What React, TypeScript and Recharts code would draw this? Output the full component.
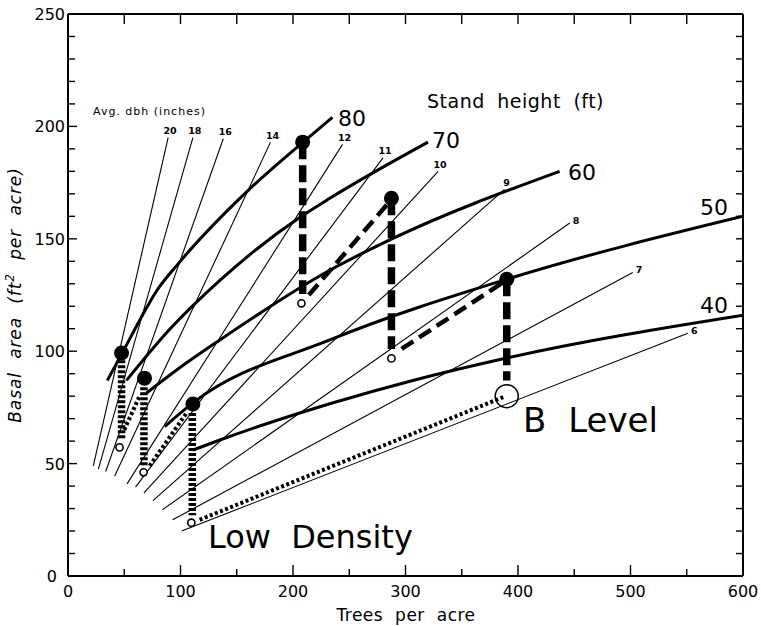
import React from "react";
import { ComposedChart, Line, Scatter, XAxis, YAxis, ReferenceLine } from "recharts";

// axis ticks
const xTicks = [0, 50, 100, 150, 200, 250, 300, 350, 400, 450, 500, 550, 600];
const yTicks = [
  0, 10, 20, 30, 40, 50, 60, 70, 80, 90, 100, 110, 120, 130, 140, 150, 160, 170,
  180, 190, 200, 210, 220, 230, 240, 250,
];

// average dbh lines (start and end)
const dbhClasses = [20, 18, 16, 14, 12, 11, 10, 9, 8, 7, 6];
const dbhStartTrees = [22.5, 27, 33.5, 41.5, 52.5, 60, 67.5, 75.5, 84, 93, 101];
const dbhStartBasal = [49, 47.5, 46.5, 44.5, 41, 39.5, 37, 33.5, 29.5, 25, 20];
const dbhEndTrees = [89, 111, 138, 180, 244, 280, 329, 388, 446, 502, 551];
const dbhEndBasal = [195, 195, 194.5, 193, 192, 186, 180, 172, 157, 135, 108];

// stand height curves
const standHeights = [80, 70, 60, 50, 40];
const heightTrees = [
  [35, 48, 64, 79, 99, 159, 209, 235],
  [52, 90, 135, 207.5, 232.7, 320],
  [69.6, 99, 135, 232.7, 286, 437],
  [86, 111, 232.7, 390, 600],
  [111, 135, 306.5, 390, 600],
];
const heightBasal = [
  [87, 99, 114, 127, 139.5, 171, 193, 204],
  [87, 109.5, 131.5, 160, 168, 193],
  [81.3, 92.5, 105, 136, 149.5, 180],
  [66.5, 77, 105, 132, 160],
  [56, 60.5, 87, 97, 116],
];

// thinning sequences: before-cut (filled) and after-cut (open) points
const beforeCutTrees = [47.6, 68, 111, 208.6, 287.5, 390];
const beforeCutBasal = [99.2, 88, 76.5, 193, 168, 132];
const afterCutTrees = [45.8, 67.2, 109.6, 207.5, 287.5];
const afterCutBasal = [57.2, 46.1, 23.7, 121.3, 96.8];
const bLevelTrees = [390];
const bLevelBasal = [80];

// segments [x1, y1, x2, y2]
const lowDensityCuts = [
  [47.6, 96, 47.6, 60.5],
  [67.5, 84, 67.5, 49],
  [110.5, 72.5, 110.5, 27],
];
const lowDensityGrowth = [
  [50, 65, 64, 80.5],
  [72.5, 49, 106, 73],
  [117, 25, 388, 79.8],
];
const bLevelCuts = [
  [208.6, 193, 208.6, 125.5],
  [287.5, 168, 287.5, 101],
  [390, 132, 390, 87],
];
const bLevelGrowth = [
  [214, 125, 285, 166],
  [296.5, 101, 388, 131],
];

const FONT = "DejaVu Sans";

// plot box in pixels (margin + axis sizes)
const PLOT_LEFT = 68;
const PLOT_RIGHT = 743;
const PLOT_TOP = 14;
const PLOT_BOTTOM = 576;

const seg = (s: number[]) => [
  { x: s[0], y: s[1] },
  { x: s[2], y: s[3] },
];

const pts = (xs: number[], ys: number[]) => xs.map((x, i) => ({ x, y: ys[i] }));

// bottom tick also draws the matching inward tick on the top border
const BottomTick = ({ x, payload }: any) => {
  const v = payload.value;
  const major = v % 100 === 0;
  return (
    <g>
      <line x1={x} x2={x} y1={PLOT_BOTTOM} y2={PLOT_BOTTOM - (major ? 11 : 7)} stroke="#000" strokeWidth={1.4} />
      <line x1={x} x2={x} y1={PLOT_TOP} y2={PLOT_TOP + 10} stroke="#000" strokeWidth={1.4} />
      {major && (
        <text x={x} y={PLOT_BOTTOM + 21} textAnchor="middle" fontSize={16} fontFamily={FONT} fill="#000">
          {v}
        </text>
      )}
    </g>
  );
};

// left tick also draws the inward tick on the right border
const LeftTick = ({ y, payload }: any) => {
  const v = payload.value;
  const major = v % 50 === 0;
  return (
    <g>
      <line x1={PLOT_LEFT} x2={PLOT_LEFT + (major ? 9 : 7)} y1={y} y2={y} stroke="#000" strokeWidth={1.4} />
      <line x1={PLOT_RIGHT} x2={PLOT_RIGHT - 7} y1={y} y2={y} stroke="#000" strokeWidth={1.4} />
      {major && (
        <text
          x={v === 0 ? PLOT_LEFT - 11 : PLOT_LEFT - 3}
          y={y + 6}
          textAnchor="end"
          fontSize={16}
          fontFamily={FONT}
          fill="#000"
        >
          {v}
        </text>
      )}
    </g>
  );
};

export default function App() {
  return (
    <div style={{ position: "absolute", left: 0, top: 0, width: 761, height: 626, background: "#fff" }}>
      <ComposedChart width={761} height={626} margin={{ top: 14, right: 18, bottom: 0, left: 8 }}>
        <XAxis
          dataKey="x"
          type="number"
          domain={[0, 600]}
          ticks={xTicks}
          interval={0}
          height={50}
          tickSize={0}
          tickMargin={0}
          tick={<BottomTick />}
          axisLine={{ stroke: "#000", strokeWidth: 2 }}
          allowDataOverflow
        />
        <YAxis
          dataKey="y"
          type="number"
          domain={[0, 250]}
          ticks={yTicks}
          interval={0}
          width={60}
          tickSize={0}
          tickMargin={0}
          tick={<LeftTick />}
          axisLine={{ stroke: "#000", strokeWidth: 2 }}
          allowDataOverflow
        />
        <ReferenceLine y={250} stroke="#000" strokeWidth={2} />
        <ReferenceLine x={600} stroke="#000" strokeWidth={2} />

        {dbhClasses.map((d, i) => {
          const steep = d >= 9;
          return (
            <Line
              key={`dbh-${d}`}
              data={[
                { x: dbhStartTrees[i], y: dbhStartBasal[i] },
                { x: dbhEndTrees[i], y: dbhEndBasal[i] },
              ]}
              dataKey="y"
              type="linear"
              stroke="#000"
              strokeWidth={1.1}
              dot={false}
              isAnimationActive={false}
              label={(p: any) =>
                p.index === 1 ? (
                  <text
                    key={`lbl-${d}`}
                    x={steep ? p.x + 2 : p.x + 3}
                    y={steep ? p.y - 3.5 : p.y + 0.5}
                    textAnchor={steep ? "middle" : "start"}
                    fontSize={9.5}
                    fontWeight="bold"
                    fontFamily={FONT}
                    fill="#000"
                  >
                    {d}
                  </text>
                ) : (
                  <g key={`nolbl-${d}-${p.index}`} />
                )
              }
            />
          );
        })}

        {standHeights.map((h, i) => (
          <Line
            key={`h-${h}`}
            data={pts(heightTrees[i], heightBasal[i])}
            dataKey="y"
            type="monotone"
            stroke="#000"
            strokeWidth={3}
            dot={false}
            isAnimationActive={false}
          />
        ))}

        {lowDensityCuts.map((s, i) => (
          <Line
            key={`ldc-${i}`}
            data={seg(s)}
            dataKey="y"
            type="linear"
            stroke="#000"
            strokeWidth={7.5}
            strokeDasharray="3 2"
            dot={false}
            isAnimationActive={false}
          />
        ))}
        {lowDensityGrowth.map((s, i) => (
          <Line
            key={`ldg-${i}`}
            data={seg(s)}
            dataKey="y"
            type="linear"
            stroke="#000"
            strokeWidth={4}
            strokeDasharray="3 2.5"
            dot={false}
            isAnimationActive={false}
          />
        ))}
        {bLevelCuts.map((s, i) => (
          <Line
            key={`blc-${i}`}
            data={seg(s)}
            dataKey="y"
            type="linear"
            stroke="#000"
            strokeWidth={7.5}
            strokeDasharray="17 6"
            dot={false}
            isAnimationActive={false}
          />
        ))}
        {bLevelGrowth.map((s, i) => (
          <Line
            key={`blg-${i}`}
            data={seg(s)}
            dataKey="y"
            type="linear"
            stroke="#000"
            strokeWidth={4.5}
            strokeDasharray="14 7"
            dot={false}
            isAnimationActive={false}
          />
        ))}

        <Scatter
          data={pts(afterCutTrees, afterCutBasal)}
          dataKey="y"
          isAnimationActive={false}
          shape={(p: any) => (
            <circle cx={p.cx} cy={p.cy} r={3.6} fill="#fff" stroke="#000" strokeWidth={1.6} />
          )}
        />
        <Scatter
          data={pts(bLevelTrees, bLevelBasal)}
          dataKey="y"
          isAnimationActive={false}
          shape={(p: any) => (
            <circle cx={p.cx} cy={p.cy} r={11.5} fill="none" stroke="#000" strokeWidth={1.5} />
          )}
        />
        <Scatter
          data={pts(beforeCutTrees, beforeCutBasal)}
          dataKey="y"
          isAnimationActive={false}
          shape={(p: any) => <circle cx={p.cx} cy={p.cy} r={7.5} fill="#000" />}
        />
      </ComposedChart>

      <svg
        width={761}
        height={626}
        style={{ position: "absolute", left: 0, top: 0, pointerEvents: "none" }}
        fontFamily={FONT}
        fill="#000"
      >
        <text x={93} y={115} fontSize={11} letterSpacing={1}>
          Avg. dbh (inches)
        </text>
        <text x={427} y={108} fontSize={19} letterSpacing={0.5} style={{ wordSpacing: 6 }}>
          Stand height (ft)
        </text>
        <text x={338} y={126} fontSize={22}>80</text>
        <text x={432} y={148} fontSize={22}>70</text>
        <text x={568} y={180} fontSize={22}>60</text>
        <text x={700} y={215} fontSize={22}>50</text>
        <text x={700} y={313} fontSize={22}>40</text>
        <text x={208} y={548} fontSize={32} style={{ wordSpacing: 10 }}>
          Low Density
        </text>
        <text x={523} y={432} fontSize={34} style={{ wordSpacing: 11 }}>
          B Level
        </text>
        <text x={406} y={621} textAnchor="middle" fontSize={17} letterSpacing={0.5} style={{ wordSpacing: 6 }}>
          Trees per acre
        </text>
        <text
          transform="translate(21,295) rotate(-90)"
          textAnchor="middle"
          fontSize={17}
          fontStyle="italic"
          letterSpacing={0.9}
          style={{ wordSpacing: 7 }}
        >
          Basal area (ft<tspan dy={-7} fontSize={12}>2</tspan>
          <tspan dy={7}> per acre)</tspan>
        </text>
      </svg>
    </div>
  );
}
